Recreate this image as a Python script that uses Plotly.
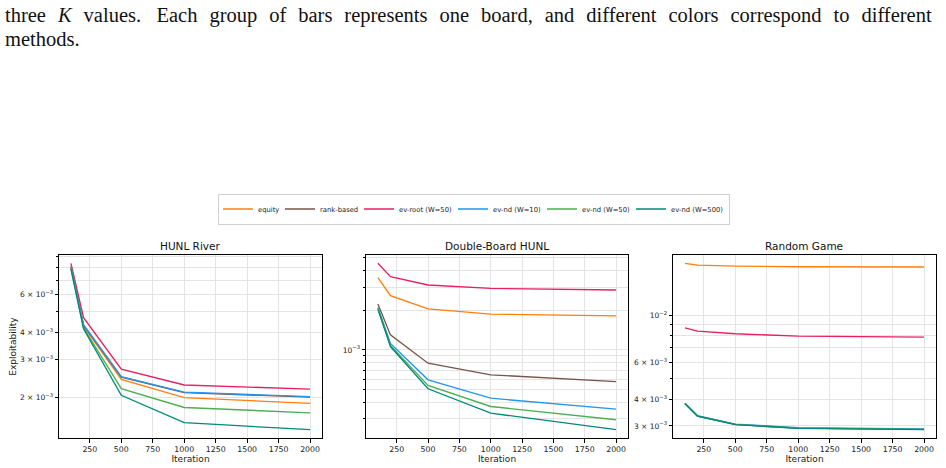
import numpy as np
import plotly.graph_objects as go

W, H = 946, 468

iterations = [100, 200, 500, 1000, 2000]
methods = ["equity", "rank-based", "ev-root (W=50)", "ev-nd (W=10)", "ev-nd (W=50)", "ev-nd (W=500)"]
colors = ["#ff7f0e", "#795548", "#e91e63", "#2196f3", "#4caf50", "#00897b"]
legend_text_widths = [17, 34, 49, 44, 44, 0]

panel_titles = ["HUNL River", "Double-Board HUNL", "Random Game"]

# HUNL River
river_equity = [8.1e-3, 4.29e-3, 2.43e-3, 2.00e-3, 1.88e-3]
river_rank = [8.1e-3, 4.33e-3, 2.49e-3, 2.11e-3, 2.01e-3]
river_evroot = [8.4e-3, 4.70e-3, 2.71e-3, 2.29e-3, 2.19e-3]
river_nd10 = [8.1e-3, 4.36e-3, 2.50e-3, 2.12e-3, 2.02e-3]
river_nd50 = [8.0e-3, 4.22e-3, 2.20e-3, 1.80e-3, 1.70e-3]
river_nd500 = [7.9e-3, 4.17e-3, 2.05e-3, 1.53e-3, 1.42e-3]

# Double-Board HUNL
double_equity = [3.53e-3, 2.58e-3, 2.05e-3, 1.87e-3, 1.81e-3]
double_rank = [2.23e-3, 1.30e-3, 7.93e-4, 6.47e-4, 5.75e-4]
double_evroot = [4.54e-3, 3.59e-3, 3.11e-3, 2.93e-3, 2.85e-3]
double_nd10 = [2.10e-3, 1.12e-3, 5.93e-4, 4.30e-4, 3.55e-4]
double_nd50 = [2.07e-3, 1.08e-3, 5.37e-4, 3.72e-4, 2.95e-4]
double_nd500 = [2.03e-3, 1.06e-3, 5.07e-4, 3.31e-4, 2.48e-4]

# Random Game
random_equity = [1.754e-2, 1.72e-2, 1.70e-2, 1.69e-2, 1.686e-2]
random_rank = [3.83e-3, 3.34e-3, 3.05e-3, 2.93e-3, 2.89e-3]
random_evroot = [8.71e-3, 8.40e-3, 8.16e-3, 7.96e-3, 7.87e-3]
random_nd10 = [3.83e-3, 3.35e-3, 3.06e-3, 2.94e-3, 2.90e-3]
random_nd50 = [3.83e-3, 3.34e-3, 3.05e-3, 2.93e-3, 2.89e-3]
random_nd500 = [3.83e-3, 3.34e-3, 3.04e-3, 2.92e-3, 2.88e-3]

panels = [
    [river_equity, river_rank, river_evroot, river_nd10, river_nd50, river_nd500],
    [double_equity, double_rank, double_evroot, double_nd10, double_nd50, double_nd500],
    [random_equity, random_rank, random_evroot, random_nd10, random_nd50, random_nd500],
]

x_ticks = [250, 500, 750, 1000, 1250, 1500, 1750, 2000]

# labelled y ticks and unlabelled (minor) y ticks per panel
river_yticks = [2e-3, 3e-3, 4e-3, 6e-3]
river_ylabels = ["2 × 10<sup>−3</sup>", "3 × 10<sup>−3</sup>", "4 × 10<sup>−3</sup>", "6 × 10<sup>−3</sup>"]
river_minor = [5e-3, 7e-3, 8e-3, 9e-3]
double_yticks = [1e-3]
double_ylabels = ["10<sup>−3</sup>"]
double_minor = [3e-4, 4e-4, 5e-4, 6e-4, 7e-4, 8e-4, 9e-4, 2e-3, 3e-3, 4e-3, 5e-3]
random_yticks = [3e-3, 4e-3, 6e-3, 1e-2]
random_ylabels = ["3 × 10<sup>−3</sup>", "4 × 10<sup>−3</sup>", "6 × 10<sup>−3</sup>", "10<sup>−2</sup>"]
random_minor = [5e-3, 7e-3, 8e-3, 9e-3]
yticks = [(river_yticks, river_ylabels, river_minor),
          (double_yticks, double_ylabels, double_minor),
          (random_yticks, random_ylabels, random_minor)]

caption_words = ["three", "<i>K</i>", "values.", "Each", "group", "of", "bars", "represents", "one",
                 "board,", "and", "different", "colors", "correspond", "to", "different"]
caption_line2 = "methods."

x_domains = [(59 / W, 322 / W), (366 / W, 628 / W), (673 / W, 936 / W)]
y_domain = (1 - 438 / H, 1 - 255 / H)

fig = go.Figure()

GRID = "#e4e4e4"
TXT = "#222"

for p, series in enumerate(panels):
    xa = "x" if p == 0 else f"x{p+1}"
    ya = "y" if p == 0 else f"y{p+1}"
    for m, vals in enumerate(series):
        tr = dict(
            x=iterations, y=vals, mode="lines", name=methods[m],
            line=dict(color=colors[m], width=1.35),
            legendgroup=methods[m], showlegend=(p == 0),
            xaxis=xa, yaxis=ya,
        )
        if legend_text_widths[m]:
            tr["legendwidth"] = legend_text_widths[m]
        fig.add_trace(go.Scatter(**tr))
    allv = np.log10(np.concatenate([np.array(s) for s in series]))
    lo, hi = allv.min(), allv.max()
    pad = 0.05 * (hi - lo)
    xkey = "xaxis" if p == 0 else f"xaxis{p+1}"
    ykey = "yaxis" if p == 0 else f"yaxis{p+1}"
    tv, tt, mv = yticks[p]
    fig.update_layout(**{
        xkey: dict(
            domain=list(x_domains[p]), anchor=ya, range=[5, 2095],
            tickmode="array", tickvals=x_ticks, ticktext=[str(t) for t in x_ticks],
            showline=True, linecolor="black", linewidth=1, mirror=True,
            ticks="outside", ticklen=3.5, tickwidth=0.8, tickcolor="black",
            showgrid=True, gridcolor=GRID, gridwidth=1, zeroline=False,
            tickfont=dict(family="DejaVu Sans", size=7.8, color=TXT),
            title=dict(text="Iteration", font=dict(family="DejaVu Sans", size=9, color=TXT), standoff=2),
        ),
        ykey: dict(
            domain=list(y_domain), anchor=xa, type="log", range=[lo - pad, hi + pad],
            tickmode="array", tickvals=tv, ticktext=tt,
            showline=True, linecolor="black", linewidth=1, mirror=True,
            ticks="outside", ticklen=3.5, tickwidth=0.8, tickcolor="black",
            showgrid=True, gridcolor=GRID, gridwidth=1, zeroline=False,
            tickfont=dict(family="DejaVu Sans", size=7.5, color=TXT),
            minor=dict(tickmode="array", tickvals=mv, ticks="outside", ticklen=2,
                       tickwidth=0.6, tickcolor="black", showgrid=True,
                       gridcolor=GRID, gridwidth=1),
        ),
    })

fig.update_layout(yaxis_title=dict(text="Exploitability", font=dict(family="DejaVu Sans", size=9, color=TXT), standoff=1))

annotations = []
for p, t in enumerate(panel_titles):
    cx = (x_domains[p][0] + x_domains[p][1]) / 2
    annotations.append(dict(
        text=t, x=cx, y=1 - 254 / H, xref="paper", yref="paper",
        xanchor="center", yanchor="bottom", showarrow=False,
        font=dict(family="DejaVu Sans", size=10.5, color="#111"),
    ))

# emulate justified caption: uniformly widened inter-word gaps, wider after the full stop
caption_line1 = caption_words[0]
for wd in caption_words[1:]:
    gap = " \u00a0\u00a0" if caption_line1.endswith(".") else " \u00a0\u200a"
    caption_line1 += gap + wd

CAPFONT = dict(family="Liberation Serif", size=20.5, color="#111")
annotations.append(dict(
    text=caption_line1, x=3 / W, y=1 - 2.2 / H, xref="paper", yref="paper",
    xanchor="left", yanchor="top", showarrow=False, font=CAPFONT,
))
annotations.append(dict(
    text=caption_line2, x=3 / W, y=1 - 25.5 / H, xref="paper", yref="paper",
    xanchor="left", yanchor="top", showarrow=False, font=CAPFONT,
))

fig.update_layout(
    width=W, height=H,
    margin=dict(l=0, r=0, t=0, b=0),
    paper_bgcolor="white", plot_bgcolor="white",
    annotations=annotations,
    showlegend=True,
    legend=dict(
        orientation="h", x=474 / W, xanchor="center", y=1 - 209 / H, yanchor="middle",
        font=dict(family="DejaVu Sans", size=6.8, color=TXT),
        bordercolor="#d0d0d0", borderwidth=1, bgcolor="white",
        itemwidth=30, tracegroupgap=0,
    ),
)

fig.write_html("out.html")
